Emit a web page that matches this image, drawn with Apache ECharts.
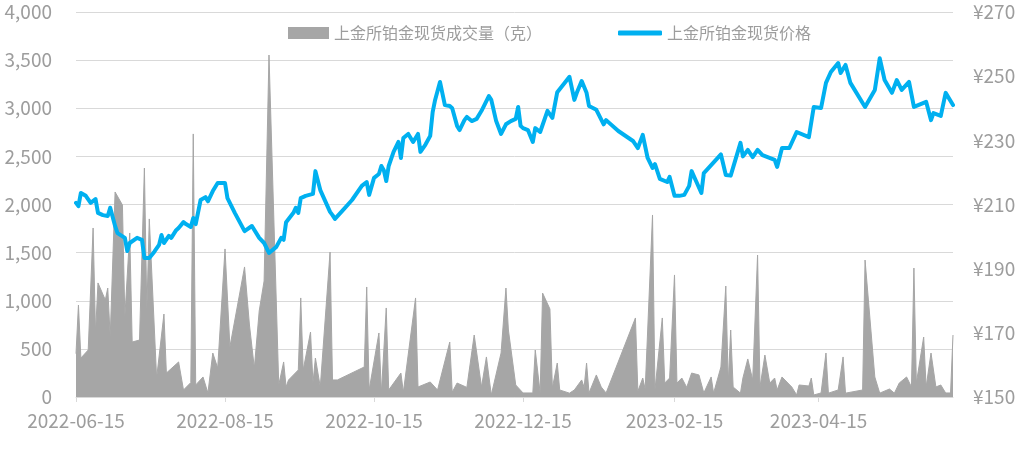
<!DOCTYPE html>
<html>
<head>
<meta charset="utf-8">
<script src="https://cdn.jsdelivr.net/npm/echarts@6/dist/echarts.min.js"></script>
<style>
  html, body { margin: 0; padding: 0; background: #fff; }
  #chart { width: 1026px; height: 457px; }
</style>
</head>
<body>
<div id="chart"></div>
<script>
// 上金所铂金现货：价格（右轴）+ 成交量（左轴，面积）
const priceDates = [
  '2022-06-15','2022-06-16','2022-06-17','2022-06-19','2022-06-21','2022-06-23','2022-06-24','2022-06-26','2022-06-28','2022-06-29',
  '2022-07-01','2022-07-02','2022-07-05','2022-07-06','2022-07-07','2022-07-10','2022-07-12','2022-07-13','2022-07-15','2022-07-17',
  '2022-07-19','2022-07-20','2022-07-21','2022-07-23','2022-07-24','2022-07-26','2022-07-27','2022-07-29','2022-07-30','2022-08-01',
  '2022-08-02','2022-08-03','2022-08-05','2022-08-07','2022-08-08','2022-08-10','2022-08-12','2022-08-15','2022-08-16','2022-08-19',
  '2022-08-23','2022-08-26','2022-08-29','2022-08-31','2022-09-02','2022-09-05','2022-09-07','2022-09-08','2022-09-09','2022-09-12',
  '2022-09-13','2022-09-14','2022-09-15','2022-09-17','2022-09-20','2022-09-21','2022-09-23','2022-09-27','2022-09-28','2022-09-29',
  '2022-10-02','2022-10-06','2022-10-10','2022-10-12','2022-10-13','2022-10-15','2022-10-17','2022-10-18','2022-10-19','2022-10-20',
  '2022-10-21','2022-10-23','2022-10-25','2022-10-26','2022-10-27','2022-10-29','2022-10-31','2022-11-02','2022-11-03','2022-11-05',
  '2022-11-07','2022-11-08','2022-11-09','2022-11-11','2022-11-13','2022-11-15','2022-11-16','2022-11-18','2022-11-19','2022-11-21',
  '2022-11-22','2022-11-24','2022-11-26','2022-11-28','2022-12-01','2022-12-02','2022-12-04','2022-12-06','2022-12-08','2022-12-10',
  '2022-12-12','2022-12-13','2022-12-14','2022-12-15','2022-12-17','2022-12-19','2022-12-20','2022-12-22','2022-12-25','2022-12-27',
  '2022-12-29','2023-01-01','2023-01-03','2023-01-05','2023-01-06','2023-01-08','2023-01-10','2023-01-11','2023-01-14','2023-01-17',
  '2023-01-18','2023-01-23','2023-01-29','2023-01-31','2023-02-02','2023-02-04','2023-02-06','2023-02-07','2023-02-09','2023-02-12',
  '2023-02-13','2023-02-15','2023-02-17','2023-02-19','2023-02-21','2023-02-22','2023-02-24','2023-02-26','2023-02-27','2023-03-02',
  '2023-03-06','2023-03-08','2023-03-10','2023-03-14','2023-03-15','2023-03-17','2023-03-19','2023-03-21','2023-03-23','2023-03-28',
  '2023-03-29','2023-03-31','2023-04-03','2023-04-06','2023-04-11','2023-04-13','2023-04-16','2023-04-18','2023-04-20','2023-04-23',
  '2023-04-24','2023-04-26','2023-04-28','2023-05-04','2023-05-08','2023-05-10','2023-05-12','2023-05-15','2023-05-17','2023-05-19',
  '2023-05-22','2023-05-24','2023-05-29','2023-05-31','2023-06-01','2023-06-04','2023-06-06','2023-06-09'
];
const priceValues = [
  210.5,209.5,213.6,212.7,210.5,211.7,207.4,206.7,206.4,209.0,
  203.3,201.1,199.6,195.5,198.0,199.6,199.0,193.3,193.3,195.2,
  197.4,200.5,198.0,200.2,199.6,202.0,202.7,204.5,203.9,203.0,
  205.8,203.9,211.4,212.3,211.0,214.2,216.7,216.7,212.0,207.4,
  201.7,203.3,199.6,198.0,194.9,196.8,199.6,199.0,204.5,207.4,
  209.0,207.4,212.0,212.7,213.3,220.4,214.5,207.7,206.7,205.5,
  208.0,211.4,215.8,217.0,213.0,218.3,219.5,222.0,220.7,217.3,
  222.0,226.4,229.5,224.5,230.7,232.0,229.5,232.0,226.4,228.6,
  231.4,238.8,242.6,248.2,241.0,240.7,240.0,234.5,233.2,236.3,
  237.3,236.0,236.7,239.2,243.8,242.6,236.0,232.0,235.0,236.0,
  236.7,240.4,234.5,233.8,233.2,229.5,233.8,232.6,239.2,237.0,
  245.0,247.9,249.8,242.6,244.8,248.5,244.8,240.7,239.5,235.0,
  236.3,232.9,229.8,227.6,231.7,224.5,221.4,222.6,218.0,217.0,
  218.6,212.7,212.7,213.0,215.8,220.4,217.0,213.6,219.8,222.3,
  225.6,219.2,219.0,229.2,225.0,227.0,224.8,227.0,225.4,223.9,
  221.7,227.6,227.6,232.6,231.0,240.4,240.1,247.9,251.3,254.1,
  251.0,253.5,247.9,240.4,245.7,255.6,248.8,244.8,248.8,245.7,
  248.2,240.4,242.0,236.3,238.5,237.6,244.8,241.0
];

const volumeDates = [
  '2022-06-15','2022-06-16','2022-06-17','2022-06-20','2022-06-22','2022-06-23','2022-06-24','2022-06-27','2022-06-28','2022-06-29',
  '2022-07-01','2022-07-04','2022-07-05','2022-07-07','2022-07-08','2022-07-11','2022-07-13','2022-07-14','2022-07-15','2022-07-18',
  '2022-07-21','2022-07-22','2022-07-27','2022-07-29','2022-08-01','2022-08-02','2022-08-03','2022-08-06','2022-08-08','2022-08-10',
  '2022-08-12','2022-08-15','2022-08-17','2022-08-23','2022-08-25','2022-08-27','2022-08-29','2022-08-31','2022-09-02','2022-09-06',
  '2022-09-08','2022-09-09','2022-09-10','2022-09-14','2022-09-15','2022-09-16','2022-09-19','2022-09-20','2022-09-21','2022-09-23',
  '2022-09-27','2022-09-28','2022-09-30','2022-10-11','2022-10-12','2022-10-13','2022-10-17','2022-10-18','2022-10-20','2022-10-21',
  '2022-10-26','2022-10-27','2022-11-01','2022-11-02','2022-11-07','2022-11-10','2022-11-15','2022-11-16','2022-11-18','2022-11-22',
  '2022-11-25','2022-11-28','2022-11-30','2022-12-02','2022-12-06','2022-12-08','2022-12-09','2022-12-12','2022-12-15','2022-12-19',
  '2022-12-20','2022-12-22','2022-12-23','2022-12-26','2022-12-27','2022-12-29','2022-12-30','2023-01-03','2023-01-05','2023-01-08',
  '2023-01-09','2023-01-10','2023-01-11','2023-01-14','2023-01-16','2023-01-18','2023-01-30','2023-01-31','2023-02-02','2023-02-03',
  '2023-02-06','2023-02-07','2023-02-10','2023-02-11','2023-02-13','2023-02-15','2023-02-16','2023-02-18','2023-02-20','2023-02-22',
  '2023-02-25','2023-02-27','2023-03-02','2023-03-03','2023-03-06','2023-03-08','2023-03-09','2023-03-10','2023-03-11','2023-03-14',
  '2023-03-15','2023-03-17','2023-03-19','2023-03-21','2023-03-22','2023-03-24','2023-03-26','2023-03-28','2023-03-29','2023-03-31',
  '2023-04-04','2023-04-06','2023-04-07','2023-04-11','2023-04-12','2023-04-13','2023-04-16','2023-04-18','2023-04-19','2023-04-23',
  '2023-04-25','2023-04-26','2023-05-03','2023-05-04','2023-05-08','2023-05-10','2023-05-14','2023-05-16','2023-05-18','2023-05-21',
  '2023-05-23','2023-05-24','2023-05-25','2023-05-28','2023-05-29','2023-05-31','2023-06-02','2023-06-04','2023-06-06','2023-06-08',
  '2023-06-09'
];
const volumeValues = [
  450,955,405,488,1756,665,1185,1008,1132,623,
  2130,1995,831,1704,571,592,2379,900,1850,197,
  862,249,364,73,150,2733,125,208,42,457,
  301,1538,520,1351,748,301,894,1205,3553,125,
  364,104,177,281,1029,281,675,145,405,104,
  1506,177,177,312,1143,73,665,42,925,73,
  249,50,1029,104,156,73,571,50,145,100,
  644,104,416,21,457,1132,696,125,42,42,
  488,42,1080,914,94,353,73,40,73,177,
  100,353,42,229,104,42,821,60,197,80,
  1891,73,821,145,197,1268,145,197,100,249,
  229,42,208,40,312,1153,145,696,104,40,
  197,395,177,1475,104,436,145,197,73,208,
  104,21,125,114,197,21,42,457,40,73,
  416,40,73,1423,208,40,83,40,145,208,
  104,1340,145,623,104,457,104,125,42,42,
  644
];

const xLabelDates = ['2022-06-15','2022-08-15','2022-10-15','2022-12-15','2023-02-15','2023-04-15'];
const volumeTicks = [0, 500, 1000, 1500, 2000, 2500, 3000, 3500, 4000];
const priceTicks = [150, 170, 190, 210, 230, 250, 270];

const volumeName = '上金所铂金现货成交量（克）';
const priceName = '上金所铂金现货价格';

function ts(s) {
  const p = s.split('-').map(Number);
  return new Date(p[0], p[1] - 1, p[2]).getTime();
}
function fmtDate(v) {
  const d = new Date(v);
  const pad = n => (n < 10 ? '0' : '') + n;
  return d.getFullYear() + '-' + pad(d.getMonth() + 1) + '-' + pad(d.getDate());
}

const labelColor = '#9d9d9d';
const fontFamily = '"Noto Sans CJK SC", "Noto Sans", sans-serif';
const xTicks = xLabelDates.map(ts);

const chart = echarts.init(document.getElementById('chart'), null, { renderer: 'canvas' });
chart.setOption({
  backgroundColor: '#fff',
  animation: false,
  textStyle: { fontFamily: fontFamily },
  grid: { left: 76, right: 73, top: 12, bottom: 60, containLabel: false },
  legend: [
    {
      data: [{ name: volumeName, icon: 'rect' }],
      left: 288, top: 25, padding: 0,
      itemWidth: 41, itemHeight: 12, itemGap: 5,
      textStyle: { color: labelColor, fontSize: 16, fontFamily: fontFamily }
    },
    {
      data: [{ name: priceName, icon: 'roundRect' }],
      left: 618, top: 25, padding: 0,
      itemWidth: 44, itemHeight: 5,
      textStyle: { color: labelColor, fontSize: 16, fontFamily: fontFamily }
    }
  ],
  // dates are plotted on a value axis (timestamps) so ticks can sit on the 15th
  xAxis: {
    type: 'value',
    min: ts('2022-06-15'),
    max: ts('2023-06-09'),
    axisLine: { show: true, lineStyle: { color: '#d9d9d9', width: 1 } },
    axisTick: { show: true, customValues: xTicks, length: 5, lineStyle: { color: '#d9d9d9' } },
    axisLabel: {
      customValues: xTicks,
      formatter: v => fmtDate(v),
      color: labelColor, fontSize: 19, margin: 14,
      showMinLabel: true, showMaxLabel: true, hideOverlap: false
    },
    splitLine: { show: false }
  },
  yAxis: [
    {
      type: 'value', min: 0, max: 4000, interval: 500,
      axisLine: { show: false }, axisTick: { show: false },
      axisLabel: {
        customValues: volumeTicks,
        formatter: v => v.toLocaleString('en-US'),
        color: labelColor, fontSize: 19, margin: 24
      },
      splitLine: { show: true, lineStyle: { color: '#d9d9d9', width: 1 } }
    },
    {
      type: 'value', position: 'right', min: 150, max: 270, interval: 20,
      axisLine: { show: false }, axisTick: { show: false },
      axisLabel: {
        customValues: priceTicks,
        formatter: '¥{value}',
        color: labelColor, fontSize: 19, margin: 20
      },
      splitLine: { show: false }
    }
  ],
  series: [
    {
      name: volumeName,
      type: 'line',
      yAxisIndex: 0,
      data: volumeDates.map((d, i) => [ts(d), volumeValues[i]]),
      symbol: 'none',
      color: '#a6a6a6',
      lineStyle: { color: '#a6a6a6', width: 1 },
      areaStyle: { color: '#a6a6a6', opacity: 1 },
      z: 1
    },
    {
      name: priceName,
      type: 'line',
      yAxisIndex: 1,
      data: priceDates.map((d, i) => [ts(d), priceValues[i]]),
      symbol: 'none',
      color: '#00b0f0',
      lineStyle: { color: '#00b0f0', width: 4, cap: 'round', join: 'round' },
      z: 3
    }
  ]
});
</script>
</body>
</html>
